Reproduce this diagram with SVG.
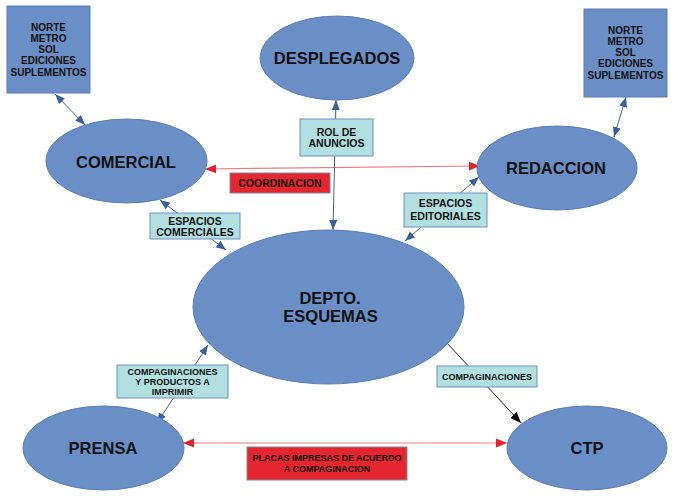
<svg xmlns="http://www.w3.org/2000/svg" width="677" height="498" viewBox="0 0 677 498">
<defs>
<style>
.node{fill:#6a8fc6;stroke:#5a7fb8;stroke-width:1}
.box{fill:#6a8fc6;stroke:#5a7fb8;stroke-width:1}
.lbl{fill:#b2e0e0;stroke:#6f8fc0;stroke-width:1}
.red{fill:#e5262f;stroke:#7f86a8;stroke-width:1}
.t{font-family:"Liberation Sans",Arial,sans-serif;font-weight:bold;fill:#111;text-anchor:middle}
.big{font-size:16.5px}
.sm{font-size:10px}
.lb{font-size:10.5px}
.xs{font-size:9px}
.bl{stroke:#3d64a6;stroke-width:1;fill:none}
.rd{stroke:#f07a80;stroke-width:1.2;fill:none}
.bk{stroke:#222;stroke-width:1;fill:none}
</style>
<marker id="ab" viewBox="0 0 10 10" refX="10" refY="5" markerWidth="10" markerHeight="10" markerUnits="userSpaceOnUse" orient="auto-start-reverse"><path d="M0,1 L10,5 L0,9 z" fill="#3a5fa0"/></marker>
<marker id="ar" viewBox="0 0 10 10" refX="10" refY="5" markerWidth="11" markerHeight="11" markerUnits="userSpaceOnUse" orient="auto-start-reverse"><path d="M0,1 L10,5 L0,9 z" fill="#e8202a"/></marker>
<marker id="ak" viewBox="0 0 10 10" refX="10" refY="5" markerWidth="11" markerHeight="11" markerUnits="userSpaceOnUse" orient="auto-start-reverse"><path d="M0,1 L10,5 L0,9 z" fill="#000"/></marker>
</defs>
<rect width="677" height="498" fill="#fff"/>

<g id="connectors">
<line class="bl" x1="55" y1="94" x2="85" y2="125" marker-start="url(#ab)" marker-end="url(#ab)"/>
<line class="bl" x1="626" y1="97" x2="614" y2="137" marker-start="url(#ab)" marker-end="url(#ab)"/>
<line class="rd" x1="205" y1="169" x2="480" y2="166" marker-start="url(#ar)" marker-end="url(#ar)"/>
<line class="bl" x1="336" y1="100" x2="333" y2="230" marker-start="url(#ab)" marker-end="url(#ab)"/>
<line class="bl" x1="160" y1="200" x2="226" y2="250" marker-start="url(#ab)" marker-end="url(#ab)"/>
<line class="bl" x1="479" y1="177" x2="405" y2="241" marker-start="url(#ab)" marker-end="url(#ab)"/>
<line class="bl" x1="208" y1="345" x2="157" y2="423" marker-start="url(#ab)" marker-end="url(#ab)"/>
<line class="bk" x1="447" y1="343" x2="521" y2="423" marker-end="url(#ak)"/>
<line class="rd" x1="183" y1="443" x2="507" y2="443" marker-start="url(#ar)" marker-end="url(#ar)"/>
</g>

<g id="norte-left">
<rect class="box" x="7" y="6" width="83" height="87"/>
<text class="t sm" x="48.5" y="30.5">NORTE</text>
<text class="t sm" x="48.5" y="41.8">METRO</text>
<text class="t sm" x="48.5" y="53.1">SOL</text>
<text class="t sm" x="48.5" y="64.4">EDICIONES</text>
<text class="t sm" x="48.5" y="75.7">SUPLEMENTOS</text>
</g>

<g id="norte-right">
<rect class="box" x="584" y="9" width="83" height="88"/>
<text class="t sm" x="625.5" y="33.5">NORTE</text>
<text class="t sm" x="625.5" y="44.8">METRO</text>
<text class="t sm" x="625.5" y="56.1">SOL</text>
<text class="t sm" x="625.5" y="67.4">EDICIONES</text>
<text class="t sm" x="625.5" y="78.7">SUPLEMENTOS</text>
</g>

<g id="comercial">
<ellipse class="node" cx="126.5" cy="161" rx="80.5" ry="42"/>
<text class="t big" x="126" y="167.5">COMERCIAL</text>
</g>

<g id="desplegados">
<ellipse class="node" cx="337" cy="58" rx="77" ry="42"/>
<text class="t big" x="337" y="64">DESPLEGADOS</text>
</g>

<g id="redaccion">
<ellipse class="node" cx="557" cy="168" rx="80" ry="42"/>
<text class="t big" x="556" y="174">REDACCION</text>
</g>

<g id="depto">
<ellipse class="node" cx="328.5" cy="307" rx="135.5" ry="77"/>
<text class="t big" x="330" y="304">DEPTO.</text>
<text class="t big" x="330.5" y="322">ESQUEMAS</text>
</g>

<g id="prensa">
<ellipse class="node" cx="103.5" cy="448" rx="80.5" ry="42"/>
<text class="t big" x="103" y="454">PRENSA</text>
</g>

<g id="ctp">
<ellipse class="node" cx="587" cy="448" rx="80" ry="42"/>
<text class="t big" x="587" y="454">CTP</text>
</g>

<g id="lbl-rol">
<rect class="lbl" x="300" y="119" width="73" height="37"/>
<text class="t lb" x="336.5" y="136">ROL DE</text>
<text class="t lb" x="336.5" y="147">ANUNCIOS</text>
</g>

<g id="lbl-coordinacion">
<rect class="red" x="230" y="173" width="100" height="20"/>
<text class="t lb" x="280" y="187">COORDINACION</text>
</g>

<g id="lbl-espacios-comerciales">
<rect class="lbl" x="150" y="213" width="90" height="26"/>
<text class="t lb" x="195" y="225">ESPACIOS</text>
<text class="t lb" x="195" y="236">COMERCIALES</text>
</g>

<g id="lbl-espacios-editoriales">
<rect class="lbl" x="404" y="193" width="83" height="34"/>
<text class="t lb" x="445.5" y="207">ESPACIOS</text>
<text class="t lb" x="445.5" y="220">EDITORIALES</text>
</g>

<g id="lbl-compag-productos">
<rect class="lbl" x="117" y="365" width="111" height="33"/>
<text class="t xs" x="172.5" y="374.5">COMPAGINACIONES</text>
<text class="t xs" x="172.5" y="384.5">Y PRODUCTOS A</text>
<text class="t xs" x="172.5" y="394.5">IMPRIMIR</text>
</g>

<g id="lbl-compaginaciones">
<rect class="lbl" x="437" y="366" width="100" height="21"/>
<text class="t xs" x="487" y="379.5">COMPAGINACIONES</text>
</g>

<g id="lbl-placas">
<rect class="red" x="247" y="447" width="160" height="33"/>
<text class="t xs" x="327" y="460.5">PLACAS IMPRESAS DE ACUERDO</text>
<text class="t xs" x="327" y="471.5">A COMPAGINACION</text>
</g>
</svg>
